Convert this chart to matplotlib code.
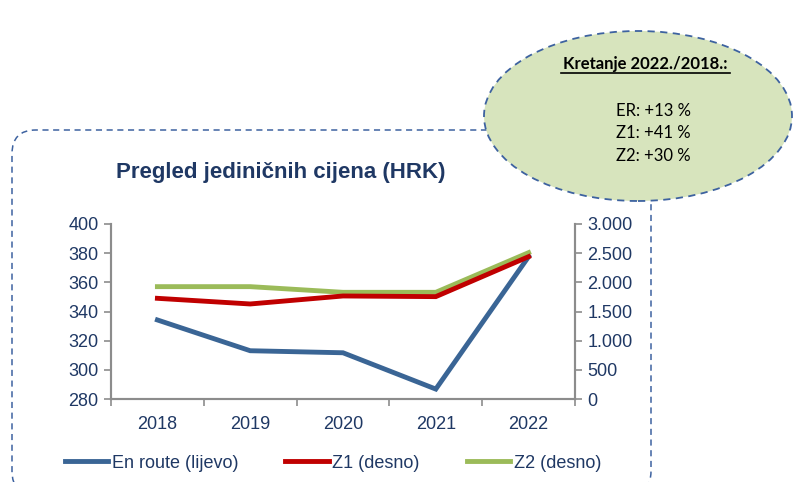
import matplotlib
matplotlib.use("Agg")
import matplotlib.pyplot as plt
from matplotlib.patches import Ellipse, FancyBboxPatch
from matplotlib.lines import Line2D

years = ["2018", "2019", "2020", "2021", "2022"]
en_route = [334.2, 313.1, 311.7, 286.8, 377.6]
z1 = [1726, 1629, 1766, 1755, 2440]
z2 = [1926, 1926, 1829, 1829, 2509]
left_ticks = [280, 300, 320, 340, 360, 380, 400]
right_ticks = [0, 500, 1000, 1500, 2000, 2500, 3000]
right_labels = ["0", "500", "1.000", "1.500", "2.000", "2.500", "3.000"]
note_title = "Kretanje 2022./2018.:"
note_lines = ["ER: +13 %", "Z1: +41 %", "Z2: +30 %"]

BLUE = "#3A6595"
RED = "#C00000"
GREEN = "#9BBB59"
NAVY = "#1F3864"
GRAY = "#8C8C8C"
DASH = "#3D62A0"
W, H = 793, 482
sans = ["Liberation Sans", "DejaVu Sans"]


def fx(x):
    return x / W


def fy(y):
    return 1 - y / H


fig = plt.figure(figsize=(W / 100, H / 100), dpi=100)

# dashed rounded frame around the chart
frame = FancyBboxPatch((fx(12), fy(495)), fx(651 - 12), (495 - 130) / H,
                       boxstyle="round,pad=0,rounding_size=0.03",
                       transform=fig.transFigure, fill=False,
                       edgecolor=DASH, linestyle=(0, (4, 3)), linewidth=1.1,
                       mutation_aspect=W / H)
fig.add_artist(frame)

ax = fig.add_axes([fx(111), fy(399), fx(575 - 111), (399 - 224) / H])
ax2 = ax.twinx()
x = range(len(years))

ax.plot(x, en_route, color=BLUE, lw=3.5, solid_joinstyle="miter")
ax2.plot(x, z2, color=GREEN, lw=3.5, solid_joinstyle="miter")
ax2.plot(x, z1, color=RED, lw=3.5, solid_joinstyle="miter")

ax.set_xlim(-0.5, len(years) - 0.5)
ax.set_ylim(280, 400)
ax2.set_ylim(0, 3000)
ax.set_yticks(left_ticks)
ax2.set_yticks(right_ticks)
ax2.set_yticklabels(right_labels)
ax.set_xticks(list(x))
ax.set_xticklabels(years)
ax.set_xticks([i - 0.5 for i in range(len(years) + 1)], minor=True)
ax.tick_params(axis="x", which="major", length=0, pad=12)
ax.tick_params(axis="x", which="minor", length=5, color=GRAY, width=1.2)

for a in (ax, ax2):
    for s in a.spines.values():
        s.set_color(GRAY)
        s.set_linewidth(1.5)
    a.spines["top"].set_visible(False)
    a.tick_params(axis="y", length=5, color=GRAY, width=1.2, labelcolor=NAVY,
                  labelsize=13, pad=4)
    for lab in a.get_yticklabels():
        lab.set_family(sans)
ax.tick_params(axis="x", labelcolor=NAVY, labelsize=13)
for lab in ax.get_xticklabels():
    lab.set_family(sans)
ax.patch.set_visible(False)

fig.text(fx(281), fy(172), "Pregled jediničnih cijena (HRK)", ha="center",
         va="center", fontsize=16, fontweight="bold", color=NAVY,
         family=sans)

handles = [Line2D([], [], color=c, lw=3.5) for c in (BLUE, RED, GREEN)]
labels = ["En route (lijevo)", "Z1 (desno)", "Z2 (desno)"]
leg = fig.legend(handles, labels, loc="center", ncol=3,
                 bbox_to_anchor=(fx(333), fy(463)), frameon=False,
                 handlelength=2.4, handletextpad=0.2, columnspacing=2.6,
                 prop={"family": sans, "size": 13})
for t in leg.get_texts():
    t.set_color(NAVY)

# green note ellipse
ell = Ellipse((fx(638), fy(116)), fx(308), 170 / H, transform=fig.transFigure,
              facecolor="#D7E4BD", edgecolor=DASH, linestyle=(0, (4, 3)),
              linewidth=1.3, zorder=5)
fig.add_artist(ell)
fig.text(fx(645), fy(64), note_title, ha="center", va="center",
         fontsize=12, fontweight="bold", family="Lato", zorder=6)
fig.add_artist(Line2D([fx(561), fx(730)], [fy(72.5), fy(72.5)],
                      transform=fig.transFigure, color="black", lw=1.2,
                      zorder=6))
for i, s in enumerate(note_lines):
    fig.text(fx(653), fy(111 + 22.5 * i), s, ha="center", va="center",
             fontsize=12, family="Lato", zorder=6)

fig.savefig("out.png", dpi=100)
